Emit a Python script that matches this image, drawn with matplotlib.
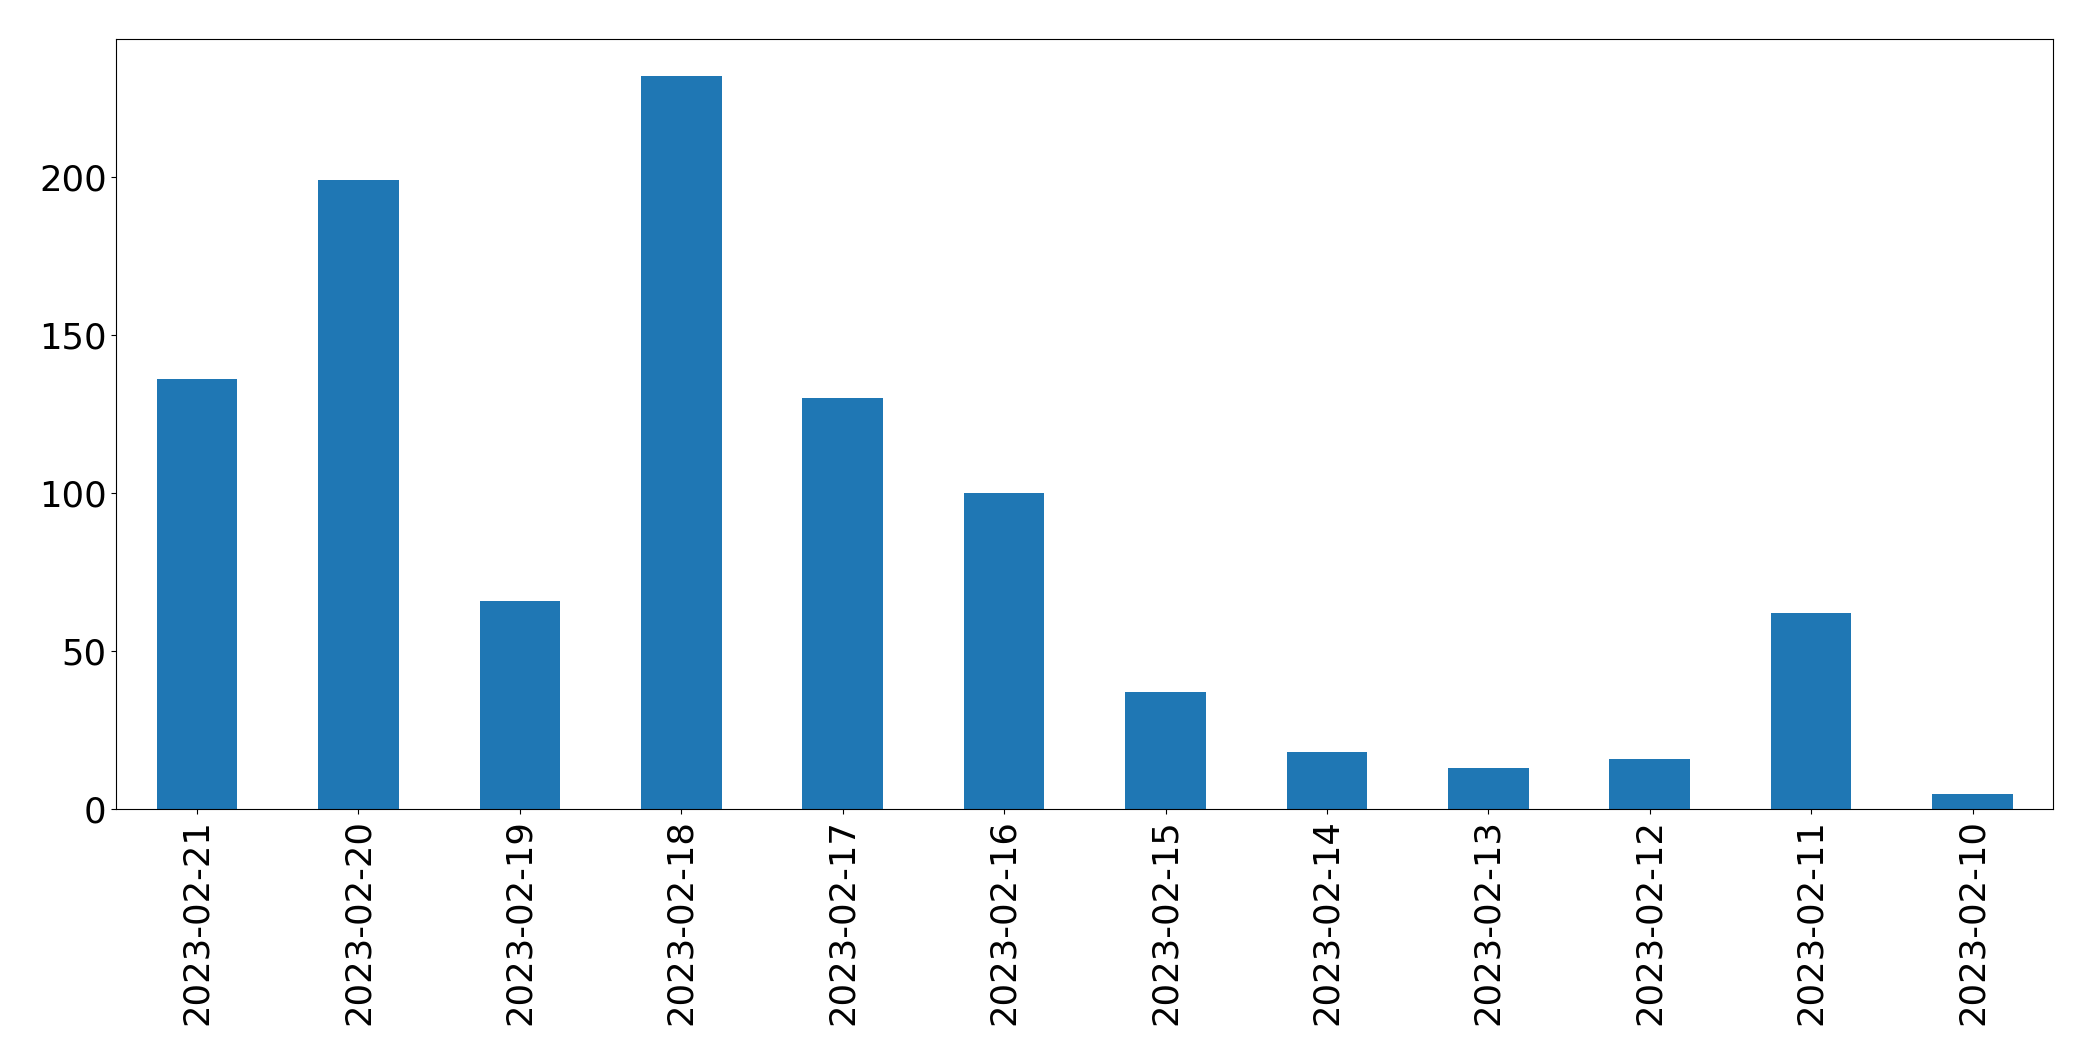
import matplotlib
matplotlib.use("Agg")
import matplotlib.pyplot as plt
import numpy as np

dates = [
    "2023-02-21", "2023-02-20", "2023-02-19", "2023-02-18", "2023-02-17", "2023-02-16",
    "2023-02-15", "2023-02-14", "2023-02-13", "2023-02-12", "2023-02-11", "2023-02-10",
]
counts = [136, 199, 66, 232, 130, 100, 37, 18, 13, 16, 62, 5]

fig = plt.figure(figsize=(20.93, 10.61), dpi=100)
ax = fig.add_axes([0.0556, 0.2372, 0.9254, 0.726])

x = np.arange(len(dates))
ax.bar(x, counts, width=0.5, color="#1f77b4")
ax.set_xlim(-0.5, len(dates) - 0.5)
ax.set_xticks(x)
ax.set_xticklabels(dates, rotation=90)
ax.tick_params(labelsize=25.5)

fig.savefig("out.png", dpi=100)
